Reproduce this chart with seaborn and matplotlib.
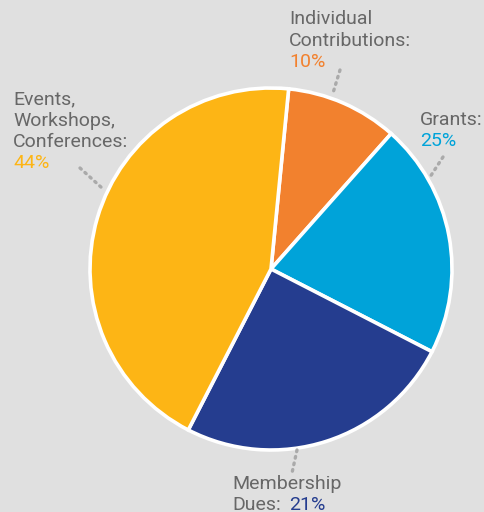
import matplotlib
matplotlib.use("Agg")
import matplotlib.pyplot as plt
import seaborn as sns

# --- data ---
categories = ["Individual Contributions", "Grants", "Membership Dues", "Events, Workshops, Conferences"]
slice_shares = [10, 21, 25, 44]          # wedge sizes as drawn in the reference
label_pcts = ["10%", "25%", "21%", "44%"]  # percentages as printed in the reference
colors = ["#f2812e", "#00a3d9", "#253d8f", "#fdb515"]

BG = "#e0e0e0"
GRAY = "#676767"
DOT = "#aaaaaa"

sns.set_theme(style="white")
plt.rcParams["font.family"] = ["Roboto", "DejaVu Sans"]

W, H = 485, 512
fig = plt.figure(figsize=(W / 100, H / 100), dpi=100, facecolor=BG)
ax = fig.add_axes([0, 0, 1, 1])
ax.set_facecolor(BG)

cx, cy, r = 271, H - 269, 181
ax.pie(slice_shares, colors=colors, startangle=84.4, counterclock=False,
       center=(cx, cy), radius=r,
       wedgeprops=dict(edgecolor="white", linewidth=2.6))
ax.set_xlim(0, W)
ax.set_ylim(0, H)
ax.set_aspect("equal")
ax.axis("off")

fs = 14.0
ls = 21.5

def y(p):
    return H - p

def line_text(x, ytop, s, color):
    ax.text(x, y(ytop), s, color=color, fontsize=fs, va="top", ha="left")

# Individual Contributions
line_text(289, 10, "Individual", GRAY)
line_text(289, 10 + ls, "Contributions:", GRAY)
line_text(289, 10 + 2 * ls, label_pcts[0], colors[0])
# Grants
line_text(420, 111, "Grants:", GRAY)
line_text(420, 111 + ls, label_pcts[1], colors[1])
# Events
line_text(13, 90, "Events,", GRAY)
line_text(13, 90 + ls, "Workshops,", GRAY)
line_text(13, 90 + 2 * ls, "Conferences:", GRAY)
line_text(13, 90 + 3 * ls, label_pcts[3], colors[3])
# Membership
line_text(232, 475, "Membership", GRAY)
line_text(232, 475 + ls, "Dues:", GRAY)
line_text(289, 475 + ls, label_pcts[2], colors[2])

# dotted leader lines
leaders = [((340, 70), (333, 93)),
           ((443, 157), (430, 177)),
           ((80, 168), (102, 188)),
           ((297, 450), (292, 473))]
for (x0, y0), (x1, y1) in leaders:
    ax.plot([x0, x1], [y(y0), y(y1)], color=DOT, linewidth=2.4,
            linestyle=(0, (0.5, 1.5)), dash_capstyle="round", solid_capstyle="round")

fig.savefig("out.png", dpi=100, facecolor=BG)
